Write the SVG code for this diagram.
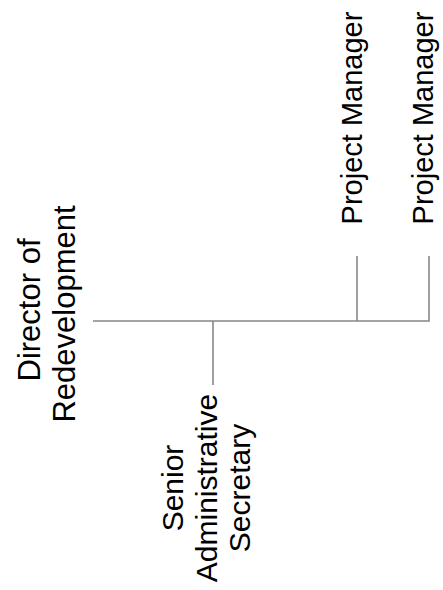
<svg xmlns="http://www.w3.org/2000/svg" width="443" height="590" viewBox="0 0 443 590">
<style>
.t{font-family:"Liberation Sans",Arial,sans-serif;font-size:30px;fill:#000;text-anchor:middle}
.d{font-size:31px}
.pm{font-size:29px}
.c{stroke:#878787;stroke-width:1.6;fill:none}
</style>
<rect width="443" height="590" fill="#fff"/>
<g id="connectors">
<path class="c" d="M93 321H429V256M357 321V256M213 321V385"/>
</g>
<g id="director" transform="translate(40,312) rotate(-90)">
<text class="t d" x="2" y="0">Director of</text>
<text class="t d" x="-2" y="35">Redevelopment</text>
</g>
<g id="secretary" transform="translate(183,488) rotate(-90)">
<text class="t" x="0" y="0">Senior</text>
<text class="t" x="0" y="34">Administrative</text>
<text class="t" x="0" y="67">Secretary</text>
</g>
<g id="pm1" transform="translate(362,118) rotate(-90)">
<text class="t pm" x="0" y="0">Project Manager</text>
</g>
<g id="pm2" transform="translate(433,118) rotate(-90)">
<text class="t pm" x="0" y="0">Project Manager</text>
</g>
</svg>
